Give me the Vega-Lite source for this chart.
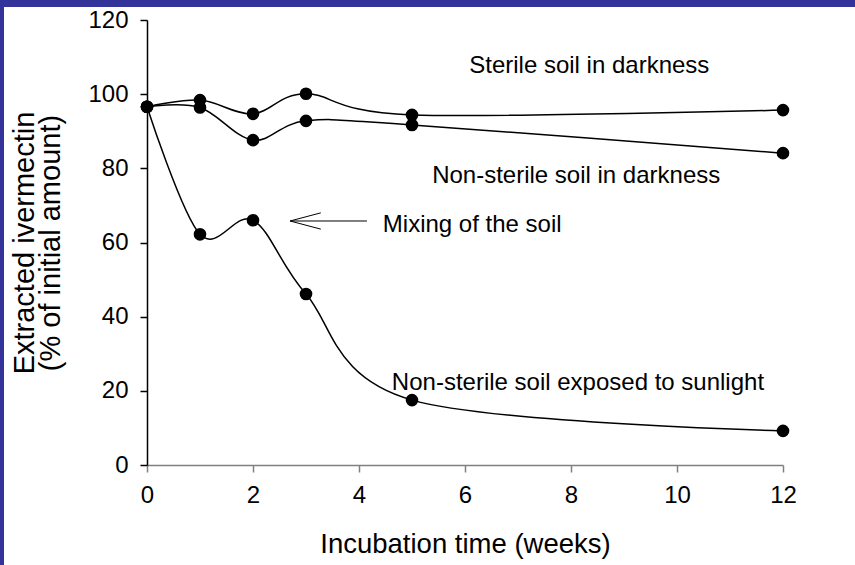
{
  "$schema": "https://vega.github.io/schema/vega-lite/v6.json",
  "autosize": {"type": "none"},
  "padding": {"left": 4, "top": 7, "right": 0, "bottom": 0},
  "width": 851,
  "height": 558,
  "background": "#333399",
  "config": {
    "view": {"stroke": null, "fill": "white"},
    "font": "Liberation Sans",
    "axis": {"grid": false, "labelFont": "Liberation Sans", "titleFont": "Liberation Sans", "labelColor": "black", "titleColor": "black", "titleFontWeight": "normal", "labelFlush": false, "labelOverlap": false}
  },
  "datasets": {
    "series": [
      {"series": "Sterile soil in darkness", "week": 0, "pct": 96.6},
      {"series": "Sterile soil in darkness", "week": 1, "pct": 98.4},
      {"series": "Sterile soil in darkness", "week": 2, "pct": 94.7},
      {"series": "Sterile soil in darkness", "week": 3, "pct": 100.1},
      {"series": "Sterile soil in darkness", "week": 5, "pct": 94.4},
      {"series": "Sterile soil in darkness", "week": 12, "pct": 95.7},
      {"series": "Non-sterile soil in darkness", "week": 0, "pct": 96.6},
      {"series": "Non-sterile soil in darkness", "week": 1, "pct": 96.4},
      {"series": "Non-sterile soil in darkness", "week": 2, "pct": 87.6},
      {"series": "Non-sterile soil in darkness", "week": 3, "pct": 92.8},
      {"series": "Non-sterile soil in darkness", "week": 5, "pct": 91.7},
      {"series": "Non-sterile soil in darkness", "week": 12, "pct": 84.1},
      {"series": "Non-sterile soil exposed to sunlight", "week": 0, "pct": 96.6},
      {"series": "Non-sterile soil exposed to sunlight", "week": 1, "pct": 62.2},
      {"series": "Non-sterile soil exposed to sunlight", "week": 2, "pct": 66.0},
      {"series": "Non-sterile soil exposed to sunlight", "week": 3, "pct": 46.1},
      {"series": "Non-sterile soil exposed to sunlight", "week": 5, "pct": 17.5},
      {"series": "Non-sterile soil exposed to sunlight", "week": 12, "pct": 9.2}
    ],
    "labels": [
      {"label": "Sterile soil in darkness", "week": 6.08, "pct": 105.7},
      {"label": "Non-sterile soil in darkness", "week": 5.38, "pct": 76.05},
      {"label": "Mixing of the soil", "week": 4.45, "pct": 62.8},
      {"label": "Non-sterile soil exposed to sunlight", "week": 4.62, "pct": 20.2}
    ],
    "arrow": [
      {"part": "shaft", "week": 2.70, "pct": 65.8, "week2": 4.15, "pct2": 65.8},
      {"part": "barb1", "week": 2.70, "pct": 65.8, "week2": 3.28, "pct2": 68.0},
      {"part": "barb2", "week": 2.70, "pct": 65.8, "week2": 3.28, "pct2": 63.6}
    ]
  },
  "layer": [
    {
      "data": {"name": "series"},
      "mark": {"type": "line", "interpolate": "cardinal", "tension": 0, "color": "black", "strokeWidth": 1.5},
      "encoding": {
        "x": {
          "field": "week", "type": "quantitative",
          "scale": {"domain": [0, 12], "range": [143, 779], "nice": false, "zero": false},
          "axis": {
            "values": [0, 2, 4, 6, 8, 10, 12], "format": "d", "offset": -100,
            "domainColor": "#808080", "domainWidth": 1.5, "tickColor": "#808080", "tickWidth": 1.5, "tickSize": 7,
            "labelFontSize": 24, "labelPadding": 11,
            "title": "Incubation time (weeks)", "titleFontSize": 27.5, "titlePadding": 23
          }
        },
        "y": {
          "field": "pct", "type": "quantitative",
          "scale": {"domain": [0, 120], "range": [458, 13], "nice": false, "zero": false},
          "axis": {
            "values": [0, 20, 40, 60, 80, 100, 120], "format": "d", "offset": -143,
            "domainColor": "black", "domainWidth": 1.5, "tickColor": "black", "tickWidth": 1.5, "tickSize": 7,
            "labelFontSize": 24, "labelPadding": 12,
            "title": ["Extracted ivermectin", "(% of initial amount)"], "titleFontSize": 29, "titlePadding": 22, "titleLineHeight": 26
          }
        },
        "detail": {"field": "series"}
      }
    },
    {
      "data": {"name": "series"},
      "mark": {"type": "circle", "size": 160, "color": "black", "opacity": 1},
      "encoding": {
        "x": {"field": "week", "type": "quantitative"},
        "y": {"field": "pct", "type": "quantitative"}
      }
    },
    {
      "mark": {"type": "rule", "color": "black", "strokeWidth": 1.5},
      "encoding": {"y": {"datum": 120}, "x": {"datum": 0}, "x2": {"datum": 12}}
    },
    {
      "mark": {"type": "rule", "color": "black", "strokeWidth": 1.5},
      "encoding": {"x": {"datum": 12}, "y": {"datum": 0}, "y2": {"datum": 120}}
    },
    {
      "data": {"name": "arrow"},
      "mark": {"type": "rule", "color": "black", "strokeWidth": 1},
      "encoding": {
        "x": {"field": "week", "type": "quantitative"},
        "y": {"field": "pct", "type": "quantitative"},
        "x2": {"field": "week2"},
        "y2": {"field": "pct2"}
      }
    },
    {
      "data": {"name": "labels"},
      "mark": {"type": "text", "align": "left", "baseline": "alphabetic", "fontSize": 24, "font": "Liberation Sans", "color": "black"},
      "encoding": {
        "x": {"field": "week", "type": "quantitative"},
        "y": {"field": "pct", "type": "quantitative"},
        "text": {"field": "label"}
      }
    }
  ]
}
